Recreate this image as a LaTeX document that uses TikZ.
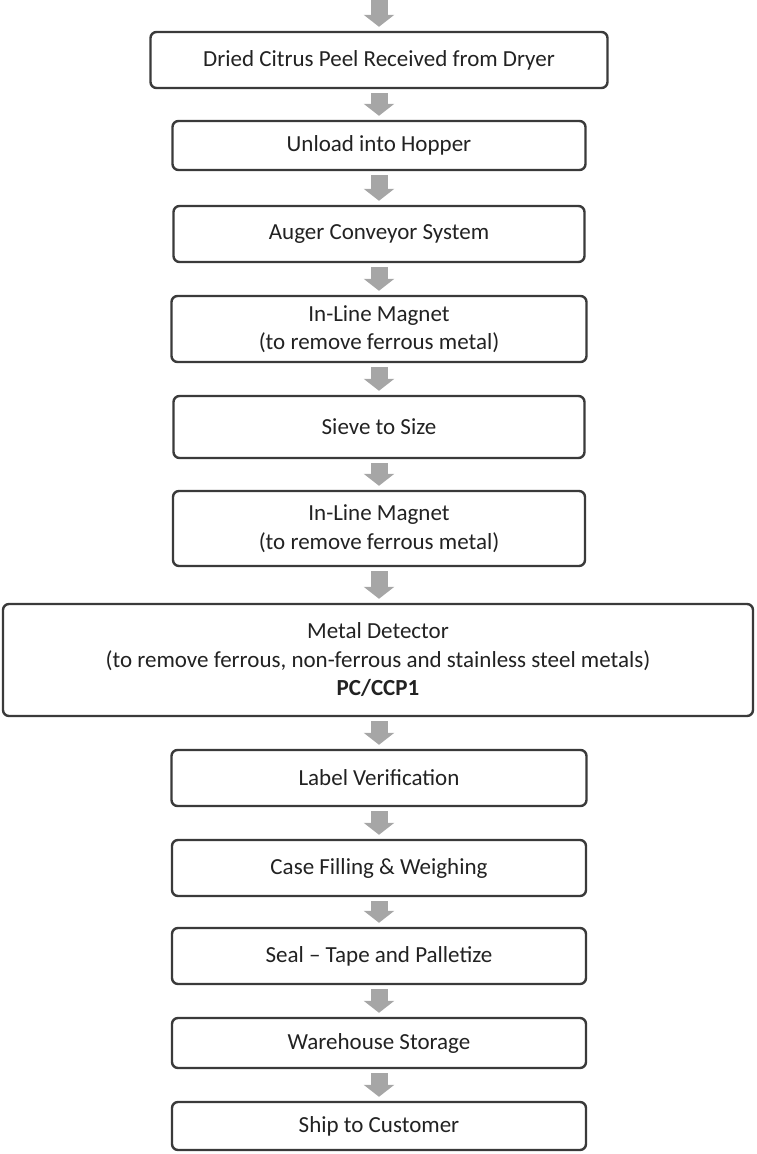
\documentclass[tikz,border=0pt]{standalone}
\usepackage{fontspec}
\setmainfont{Carlito}
\usetikzlibrary{arrows.meta}
\definecolor{boxline}{HTML}{3A3A3A}
\definecolor{arrowgray}{HTML}{A6A6A6}
\definecolor{txt}{HTML}{222222}
\tikzset{
  stepbox/.style={draw=boxline, line width=2.4pt, rounded corners=6pt, fill=white,
    align=center, inner sep=0pt, text=txt,
    font=\fontsize{23}{28.5}\selectfont},
  flowarrow/.style={draw=arrowgray, line width=17pt,
    -{Triangle[width=30pt,length=12pt]}, shorten <=4pt, shorten >=4pt}
}
\begin{document}
\begin{tikzpicture}[x=1pt,y=1pt]
\useasboundingbox (0,0) rectangle (756,-1154);
\node[stepbox, minimum width=457pt, minimum height=56pt] (b1) at (379,-60) {Dried Citrus Peel Received from Dryer};
\node[stepbox, minimum width=413pt, minimum height=49pt] (b2) at (379,-145.5) {Unload into Hopper};
\node[stepbox, minimum width=411pt, minimum height=56pt] (b3) at (379,-234) {Auger Conveyor System};
\node[stepbox, minimum width=415pt, minimum height=66pt] (b4) at (379,-329) {In-Line Magnet\\(to remove ferrous metal)};
\node[stepbox, minimum width=411pt, minimum height=62pt] (b5) at (379,-427) {Sieve to Size};
\node[stepbox, minimum width=412pt, minimum height=75pt] (b6) at (379,-528.5) {In-Line Magnet\\(to remove ferrous metal)};
\node[stepbox, minimum width=750pt, minimum height=112pt] (b7) at (378,-660) {Metal Detector\\(to remove ferrous, non-ferrous and stainless steel metals)\\\textbf{PC/CCP1}};
\node[stepbox, minimum width=415pt, minimum height=56pt] (b8) at (379,-778) {Label Verification};
\node[stepbox, minimum width=414pt, minimum height=56pt] (b9) at (379,-868) {Case Filling \& Weighing};
\node[stepbox, minimum width=414pt, minimum height=56pt] (b10) at (379,-956) {Seal -- Tape and Palletize};
\node[stepbox, minimum width=414pt, minimum height=50pt] (b11) at (379,-1043) {Warehouse Storage};
\node[stepbox, minimum width=414pt, minimum height=48pt] (b12) at (379,-1126) {Ship to Customer};
\coordinate (start) at (379,0);
\draw[flowarrow, shorten <=0pt] (start) -- (b1.north);
\draw[flowarrow] (b1.south) -- (b2.north);
\draw[flowarrow] (b2.south) -- (b3.north);
\draw[flowarrow] (b3.south) -- (b4.north);
\draw[flowarrow] (b4.south) -- (b5.north);
\draw[flowarrow] (b5.south) -- (b6.north);
\draw[flowarrow] (b6.south) -- (b7.north -| b6.south);
\draw[flowarrow] (b7.south -| b8.north) -- (b8.north);
\draw[flowarrow] (b8.south) -- (b9.north);
\draw[flowarrow] (b9.south) -- (b10.north);
\draw[flowarrow] (b10.south) -- (b11.north);
\draw[flowarrow] (b11.south) -- (b12.north);
\end{tikzpicture}
\end{document}
